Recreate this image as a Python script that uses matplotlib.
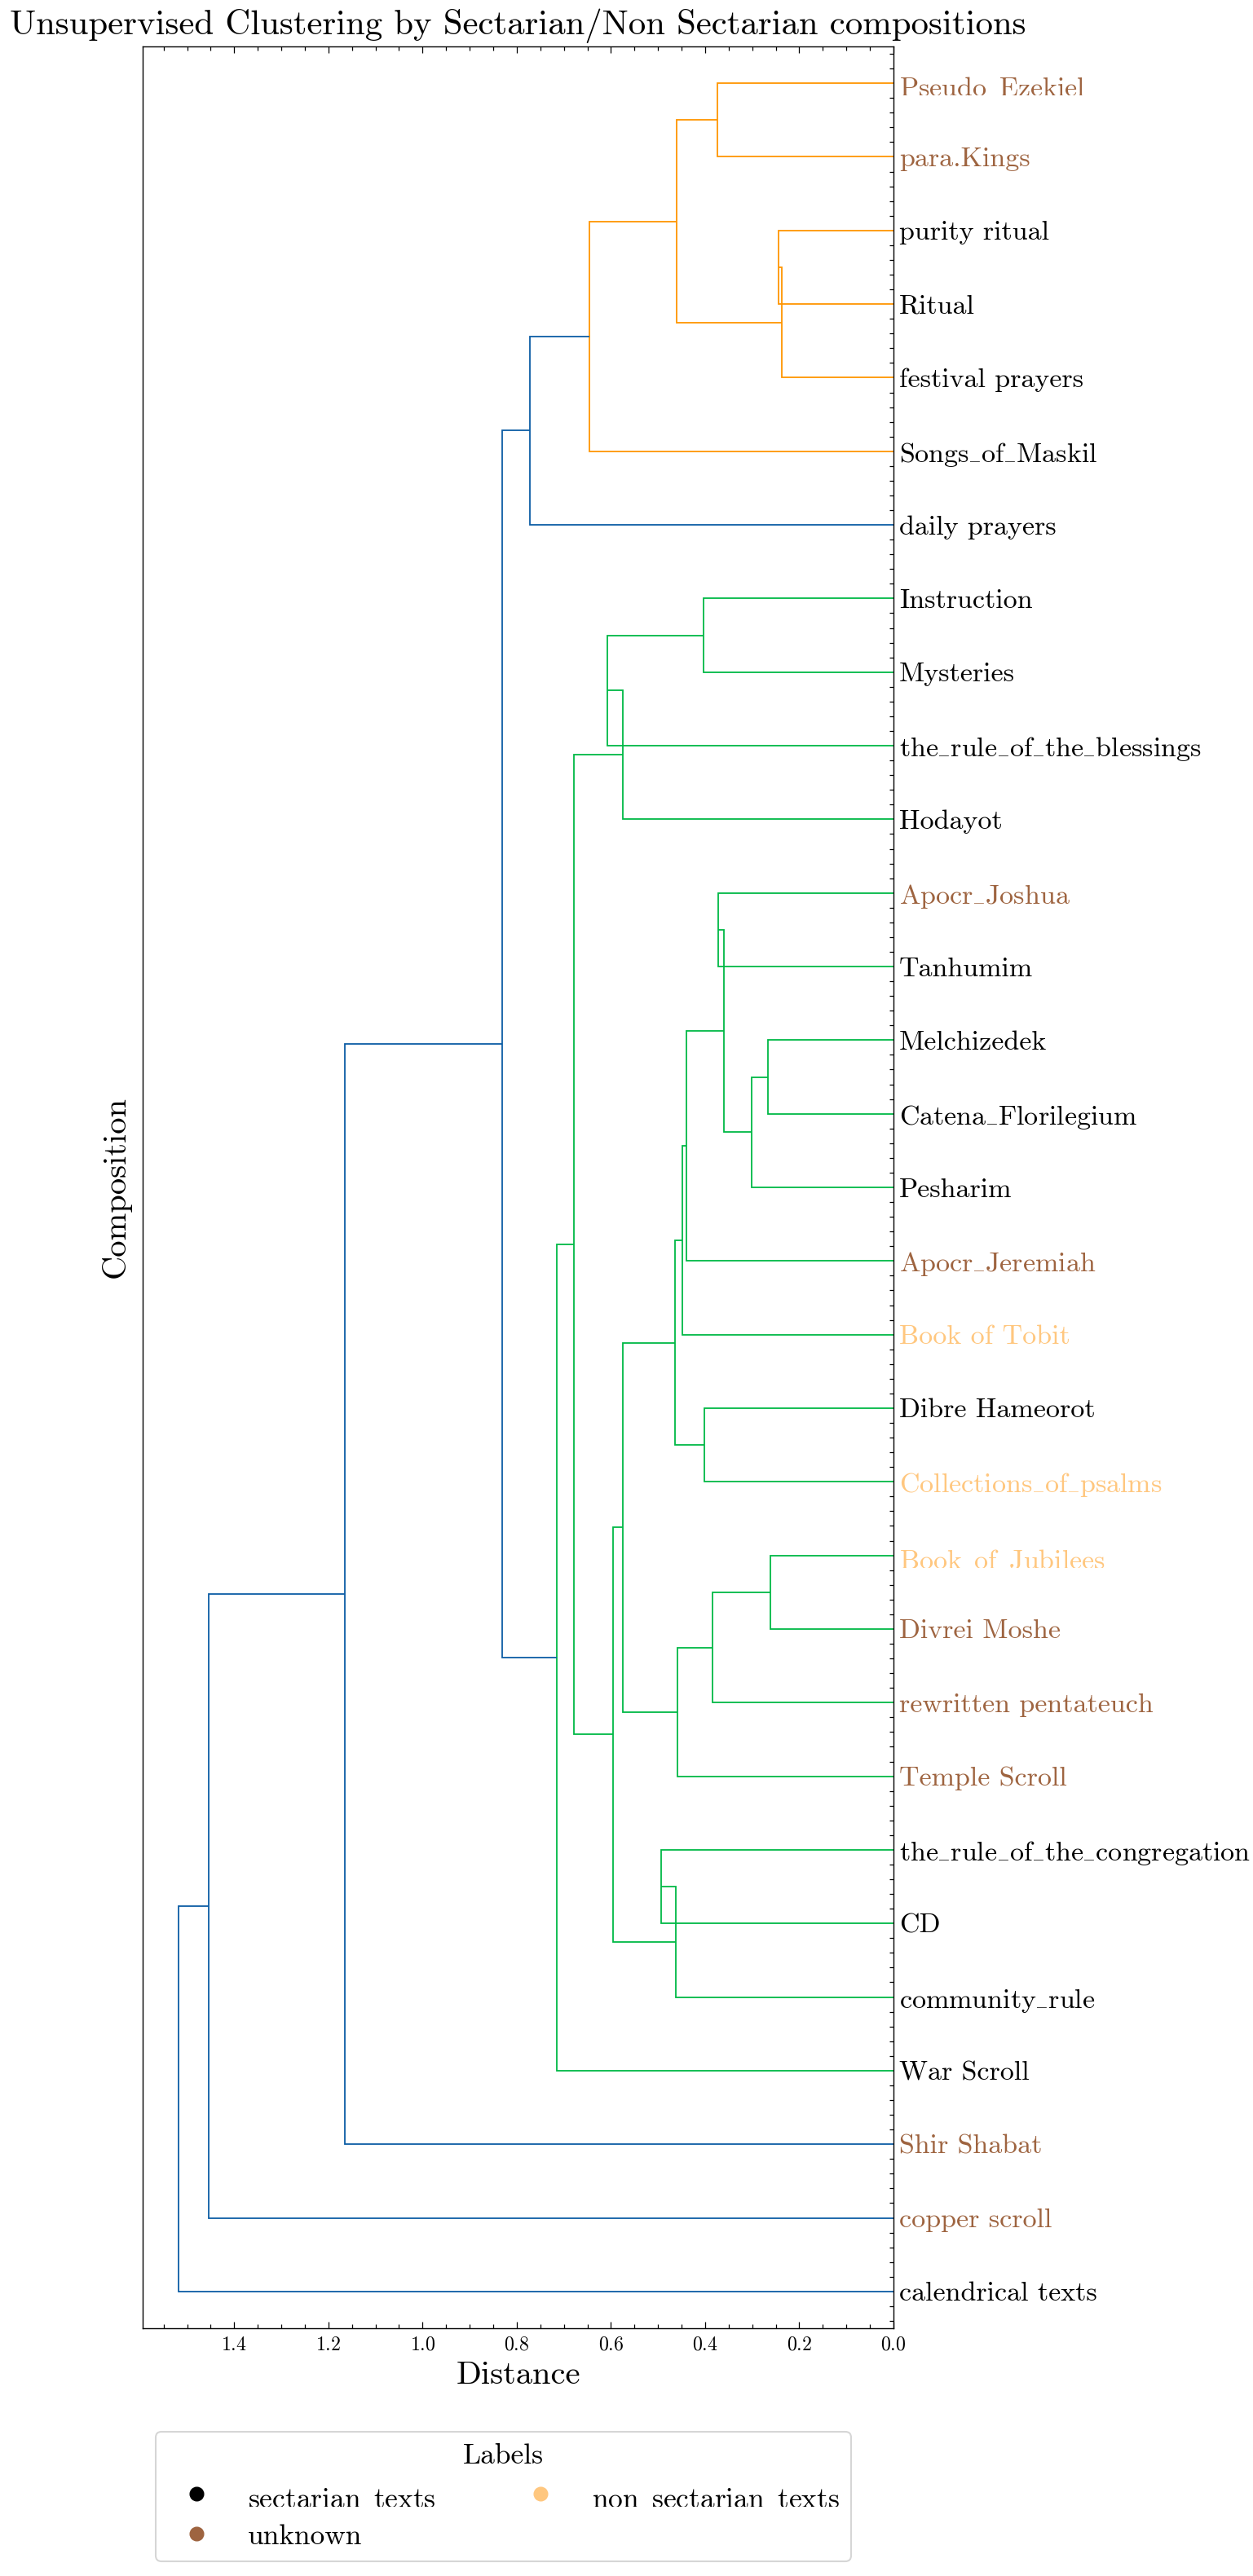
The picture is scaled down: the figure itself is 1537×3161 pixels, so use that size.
import numpy as np
import matplotlib
matplotlib.use("Agg")
import matplotlib.pyplot as plt
from matplotlib.lines import Line2D
from matplotlib.ticker import MultipleLocator, AutoMinorLocator

plt.rcParams.update({
    "font.family": "serif",
    "font.serif": ["cmr10"],
    "mathtext.fontset": "cm",
    "axes.formatter.use_mathtext": True,
    "axes.unicode_minus": False,
})

# ---------------- data ----------------
leaves = [
    "Pseudo_Ezekiel", "para.Kings", "purity ritual", "Ritual", "festival prayers",
    "Songs_of_Maskil", "daily prayers", "Instruction", "Mysteries",
    "the_rule_of_the_blessings", "Hodayot", "Apocr_Joshua", "Tanhumim",
    "Melchizedek", "Catena_Florilegium", "Pesharim", "Apocr_Jeremiah",
    "Book of Tobit", "Dibre Hameorot", "Collections_of_psalms", "Book_of_Jubilees",
    "Divrei Moshe", "rewritten pentateuch", "Temple Scroll",
    "the_rule_of_the_congregation", "CD", "community_rule", "War Scroll",
    "Shir Shabat", "copper scroll", "calendrical texts",
]
leaf_groups = [
    "unknown", "unknown", "sectarian_texts", "sectarian_texts", "sectarian_texts",
    "sectarian_texts", "sectarian_texts", "sectarian_texts", "sectarian_texts",
    "sectarian_texts", "sectarian_texts", "unknown", "sectarian_texts",
    "sectarian_texts", "sectarian_texts", "sectarian_texts", "unknown",
    "non_sectarian_texts", "sectarian_texts", "non_sectarian_texts", "non_sectarian_texts",
    "unknown", "unknown", "unknown",
    "sectarian_texts", "sectarian_texts", "sectarian_texts", "sectarian_texts",
    "unknown", "unknown", "sectarian_texts",
]
groups = ["sectarian_texts", "unknown", "non_sectarian_texts"]
group_cmap_pos = [0.0, 0.5, 1.0]

# linkage: node ids < 31 are leaves, id 31+k is the k-th merge
merge_a = [0, 2, 32, 31, 34, 35, 7, 37, 38, 11, 13, 41, 40, 43, 44, 18, 45, 20, 48, 49,
           47, 24, 52, 51, 39, 55, 36, 57, 58, 59]
merge_b = [1, 3, 4, 33, 5, 6, 8, 9, 10, 12, 14, 15, 42, 16, 17, 19, 46, 21, 22, 23,
           50, 25, 26, 53, 54, 27, 56, 28, 29, 30]
merge_dist = [0.3735, 0.244, 0.2377, 0.460, 0.6463, 0.7724, 0.4029, 0.6072, 0.5744,
              0.3724, 0.267, 0.3016, 0.3597, 0.4391, 0.4483, 0.4017, 0.4639, 0.2613,
              0.3845, 0.4587, 0.5744, 0.4932, 0.4622, 0.5962, 0.6791, 0.7154, 0.831,
              1.1653, 1.4540, 1.5185]
color_threshold = 0.75


def tex(s):
    # cmr10 has no underscore glyph: set a short baseline rule like LaTeX's \_
    return s.replace("_", "$_{\\mathrm{\u2013}}$")


# ---------------- style ----------------
link_palette = ["#00B945", "#FF9500"]
above_color = "#0C5DA5"
DPI = 100
W, H = 1537, 3161

fig = plt.figure(figsize=(W / DPI, H / DPI), dpi=DPI)
ax_l, ax_r, ax_t, ax_b = 175, 1096, 57, 2857
ax = fig.add_axes([ax_l / W, 1 - ax_b / H, (ax_r - ax_l) / W, (ax_b - ax_t) / H])

n = len(leaves)
pos = {}
for k in range(n):
    pos[k] = (10.0 * (n - 1 - k) + 5.0, 0.0)
children = {}
for m, (a, b, h) in enumerate(zip(merge_a, merge_b, merge_dist)):
    ya, _ = pos[a]
    yb, _ = pos[b]
    pos[n + m] = ((ya + yb) / 2.0, h)
    children[n + m] = (a, b)

# cluster colouring (scipy-like)
parent = {}
for node, (a, b) in children.items():
    parent[a] = node
    parent[b] = node
roots = [node for node in children
         if pos[node][1] < color_threshold
         and (node not in parent or pos[parent[node]][1] >= color_threshold)]
roots.sort(key=lambda r: pos[r][0])
node_color = {}


def paint(node, col):
    if node in children:
        node_color[node] = col
        for c in children[node]:
            paint(c, col)


for i, r in enumerate(roots):
    paint(r, link_palette[i % len(link_palette)])

for node, (a, b) in children.items():
    ya, da = pos[a]
    yb, db = pos[b]
    h = pos[node][1]
    col = node_color.get(node, above_color)
    ax.plot([da, h, h, db], [ya, ya, yb, yb], color=col, lw=1.3,
            solid_joinstyle="miter", solid_capstyle="butt")

ax.set_xlim(max(merge_dist) * 1.05, 0)
ax.set_ylim(0, 10 * n)

# y ticks (leaf labels on the right)
ax.yaxis.set_ticks_position("right")
ax.set_yticks([pos[k][0] for k in range(n)])
ax.set_yticklabels([tex(s) for s in leaves], fontsize=24.5)
ax.yaxis.set_minor_locator(AutoMinorLocator(5))
cmap = plt.cm.copper
gcol = {g: cmap(p) for g, p in zip(groups, group_cmap_pos)}
for lbl, g in zip(ax.get_yticklabels(), leaf_groups):
    lbl.set_color(gcol[g])
ax.tick_params(axis="y", which="major", length=0, pad=5)
ax.tick_params(axis="y", which="minor", direction="in", length=3.5, width=0.9,
               right=True, left=False)

# x ticks
ax.xaxis.set_major_locator(MultipleLocator(0.2))
ax.xaxis.set_minor_locator(MultipleLocator(0.05))
ax.tick_params(axis="x", which="both", direction="in", top=True, bottom=True,
               labelsize=17.2, width=0.9, pad=7)
ax.tick_params(axis="x", which="major", length=6)
ax.tick_params(axis="x", which="minor", length=3.5)
for s in ax.spines.values():
    s.set_linewidth(1.0)

ax.set_title("Unsupervised Clustering by Sectarian/Non Sectarian compositions",
             fontsize=30.8, pad=11)
ax.set_xlabel("Distance", fontsize=29.2)
ax.set_ylabel("Composition", fontsize=29.2)
ax.xaxis.set_label_coords(0.5, -0.0143)
ax.yaxis.set_label_coords(-0.0155, 0.5)

handles = [Line2D([], [], marker="o", linestyle="", color=gcol[g], markersize=12,
                  label=tex(g))
           for g in groups]
leg = fig.legend(handles=handles, title="Labels", ncol=2, loc="upper left",
                 bbox_to_anchor=(191 / W, 1 - 2984 / H), borderaxespad=0,
                 fontsize=25.5, title_fontsize=25.5, frameon=True, fancybox=True,
                 columnspacing=2.6)
leg.get_frame().set_linewidth(1.5)

fig.savefig("out.png", dpi=DPI)
